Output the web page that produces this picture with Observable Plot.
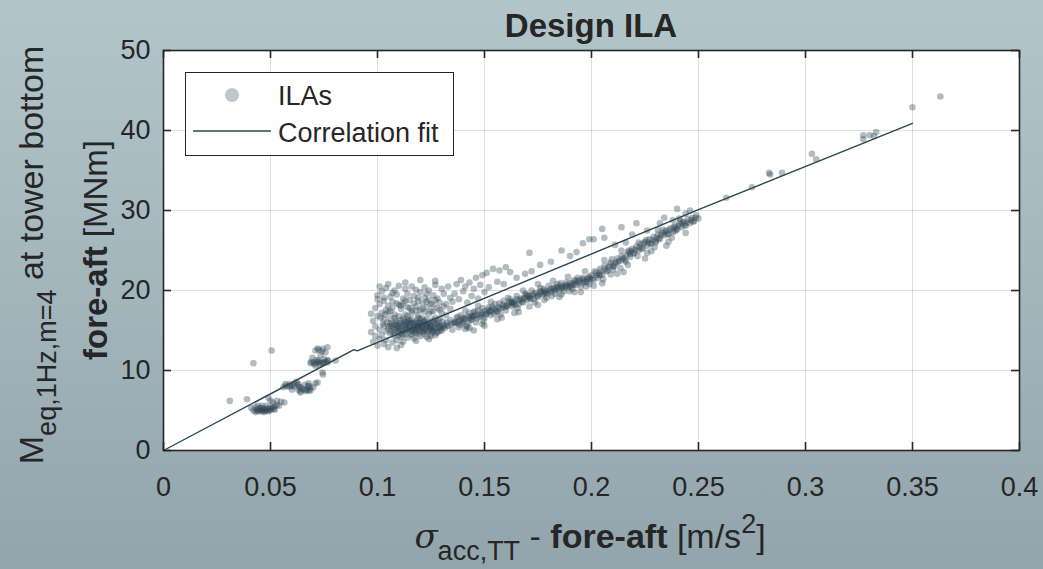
<!DOCTYPE html>
<html>
<head>
<meta charset="utf-8">
<script src="https://cdn.jsdelivr.net/npm/d3@7"></script>
<script src="https://cdn.jsdelivr.net/npm/@observablehq/plot@0.6"></script>
<style>
  html, body { margin: 0; padding: 0; }
  body { width: 1043px; height: 569px; overflow: hidden;
         background: linear-gradient(to bottom, #b2c5cb 0%, #a3b6bc 50%, #93a5ac 100%); }
  #chart svg { display: block; }
</style>
</head>
<body>
<div id="chart"></div>
<script>
// ---------- data ----------
const xTicks = [0, 0.05, 0.1, 0.15, 0.2, 0.25, 0.3, 0.35, 0.4];
const yTicks = [0, 10, 20, 30, 40, 50];

// Correlation fit (piecewise)
const fitX = [0, 0.089, 0.0905, 0.25, 0.35];
const fitY = [0, 12.6, 12.45, 30.1, 40.9];

// ILA points, cluster by cluster
const clusterLow = [
  [0.031,6.2],[0.039,6.4],[0.042,10.9],[0.0505,12.5],
  [0.041,5.3],[0.042,5.0],[0.043,4.8],[0.044,5.1],[0.045,4.9],[0.045,5.3],[0.046,5.0],[0.047,4.8],
  [0.047,5.2],[0.048,5.0],[0.049,5.3],[0.049,4.9],[0.050,5.1],[0.051,5.4],[0.052,5.5],[0.052,5.1],
  [0.053,5.7],[0.054,5.6],[0.048,5.6],[0.046,5.6],[0.050,6.2],[0.049,6.6],[0.051,6.0],[0.053,6.2],
  [0.055,6.1],[0.0565,6.0],[0.044,5.6],[0.043,5.4],
  [0.0435,5.1],[0.0455,5.2],[0.0465,4.9],[0.0475,5.0],[0.0485,5.2],[0.0495,5.0],[0.0505,5.3],
  [0.0515,5.2],[0.046,5.3],[0.044,4.9]
];
const clusterMid = [
  [0.056,7.9],[0.057,8.3],[0.058,8.0],[0.059,8.3],[0.060,8.1],[0.061,8.3],[0.0626,8.4],[0.063,7.6],
  [0.063,8.2],[0.064,7.4],[0.064,7.9],[0.064,7.25],[0.066,7.6],[0.066,8.2],[0.0678,8.4],[0.068,7.5],
  [0.068,8.1],[0.0687,7.5],[0.070,7.9],[0.071,8.4],[0.060,7.6],[0.062,8.6],[0.072,8.5],[0.0686,7.8],
  [0.057,8.1],[0.059,8.0],[0.061,8.0],[0.0635,7.9],[0.065,7.7],[0.067,7.6],[0.0675,8.0],[0.0665,7.4]
];
const clusterHigh = [
  [0.071,12.5],[0.072,12.75],[0.0766,12.9],[0.0757,12.25],[0.0734,11.9],[0.0687,10.9],[0.070,11.0],
  [0.071,10.6],[0.0724,11.25],[0.0743,11.0],[0.0748,10.9],[0.0766,11.0],[0.0743,9.75],[0.0804,11.25],
  [0.0696,11.6],[0.069,11.1],[0.0705,10.8],[0.073,10.7],[0.075,11.4],[0.0715,11.3],[0.077,11.2],
  [0.0745,9.5],[0.074,12.4],
  [0.0715,11.0],[0.0725,11.1],[0.0735,10.9],[0.0755,11.1],[0.0765,11.3],[0.0725,12.6],[0.0745,12.7]
];
const mainCore = [
  [0.105,15.2],[0.106,14.6],[0.107,15.8],[0.108,14.3],[0.108,15.1],[0.109,16.0],[0.110,14.7],[0.110,15.5],
  [0.111,14.2],[0.111,16.3],[0.112,15.0],[0.112,15.8],[0.113,14.5],[0.113,15.4],[0.114,16.1],[0.114,14.1],
  [0.115,14.9],[0.115,15.7],[0.116,14.4],[0.116,16.4],[0.117,15.2],[0.117,14.0],[0.118,15.9],[0.118,14.7],
  [0.119,15.4],[0.119,16.6],[0.120,14.3],[0.120,15.1],[0.121,15.8],[0.121,14.8],[0.122,16.2],[0.122,14.5],
  [0.123,15.5],[0.123,14.2],[0.124,15.0],[0.124,16.0],[0.125,14.6],[0.125,15.6],[0.126,14.9],[0.126,16.3],
  [0.127,15.3],[0.127,14.4],[0.128,15.9],[0.128,14.8],[0.129,15.4],[0.129,16.5],[0.130,15.0],[0.131,15.7],
  [0.110,16.8],[0.113,17.0],[0.116,17.2],[0.119,16.9],[0.122,17.3],[0.106,16.5],[0.104,14.9],[0.103,15.6],
  [0.102,14.4],[0.101,15.1],[0.109,13.8],[0.112,13.6],[0.118,13.7],[0.124,13.9],[0.114,15.2],[0.117,15.6],
  [0.120,15.9],[0.115,15.3],[0.121,15.3],[0.118,15.0],[0.123,15.8],[0.126,15.4]
];
const mainCoreDense = [
  [0.1055,15.5],[0.1065,14.9],[0.1075,15.3],[0.1085,15.7],[0.1095,14.9],[0.1105,15.2],[0.1115,15.6],
  [0.1125,14.8],[0.1135,16.0],[0.1145,15.5],[0.1155,14.6],[0.1165,15.9],[0.1175,15.4],[0.1185,16.2],
  [0.1195,15.0],[0.1205,15.6],[0.1215,16.1],[0.1225,15.2],[0.1235,14.9],[0.1245,15.7],[0.1255,16.1],
  [0.1265,15.1],[0.1275,15.8],[0.1285,16.2],[0.1295,15.6],[0.1305,16.1],[0.1315,15.3],[0.1325,16.0],
  [0.109,15.3],[0.111,15.0],[0.113,15.7],[0.115,16.2],[0.117,16.0],[0.119,15.6],[0.121,16.5],[0.123,16.4],
  [0.125,15.2],[0.127,16.6],[0.112,16.5],[0.114,16.8],[0.118,17.5],[0.120,16.4],[0.124,17.1],[0.126,17.4],
  [0.108,16.6],[0.106,15.9],[0.116,15.0],[0.122,15.0],[0.110,14.4],[0.119,14.6],[0.125,14.3],[0.129,14.9],
  [0.103,16.4],[0.105,17.3],[0.107,17.8],[0.111,18.1],[0.115,17.8],[0.117,18.4],[0.121,17.7],[0.123,18.6],
  [0.125,18.3],[0.129,17.6],[0.131,18.0],[0.103,19.1],[0.107,19.7],[0.109,18.4],[0.113,18.7],[0.119,19.1],
  [0.123,19.6],[0.127,18.8]
];
const mainCoreDarkest = [
  [0.1075,14.6],[0.1095,15.6],[0.1115,14.5],[0.1135,15.1],[0.1155,15.9],[0.1175,14.8],[0.1195,16.0],
  [0.1215,14.9],[0.1235,15.6],[0.1255,15.0],[0.1275,14.7],[0.1295,15.2],[0.1145,16.4],[0.1185,15.5],
  [0.1225,15.7],[0.1165,15.1],[0.1205,15.4],[0.1245,15.4],[0.1105,15.9],[0.1085,16.2],[0.1265,16.0],
  [0.1285,15.5],[0.1305,15.4],[0.1325,15.6],[0.1125,16.2],[0.1065,15.6],[0.1045,16.0],[0.1025,15.8],
  [0.1015,16.6],[0.1035,17.0]
];
const mainUpper = [
  [0.099,17.8],[0.100,19.4],[0.100,16.8],[0.101,18.3],[0.102,17.2],[0.102,19.9],[0.103,18.7],[0.104,17.6],
  [0.104,20.3],[0.105,18.1],[0.106,19.2],[0.106,17.4],[0.107,18.6],[0.108,20.0],[0.108,17.0],[0.109,19.5],
  [0.110,18.2],[0.110,20.6],[0.111,17.7],[0.112,19.0],[0.112,18.4],[0.113,20.2],[0.114,17.9],[0.114,19.6],
  [0.115,18.8],[0.116,20.5],[0.116,17.5],[0.117,19.3],[0.118,18.0],[0.118,20.1],[0.119,18.7],[0.120,19.8],
  [0.120,17.6],[0.121,18.4],[0.122,20.4],[0.122,19.1],[0.123,17.9],[0.124,18.8],[0.124,20.0],[0.125,17.4],
  [0.126,19.4],[0.126,18.2],[0.127,20.7],[0.128,17.8],[0.128,19.0],[0.129,18.5],[0.130,20.2],[0.130,17.2],
  [0.131,19.6],[0.132,18.3],[0.132,16.9],[0.133,20.5],[0.134,17.7],[0.134,19.1],[0.135,18.6],[0.127,21.2],
  [0.113,21.0],[0.105,20.8],[0.120,21.3],[0.101,20.5]
];
const mainLower = [
  [0.098,13.6],[0.099,14.3],[0.100,13.1],[0.101,13.9],[0.103,13.3],[0.104,13.8],[0.105,12.9],[0.107,13.5],
  [0.109,12.8],[0.111,13.2],[0.098,16.2],[0.099,15.5],[0.097,14.8],[0.100,18.9],[0.097,17.1]
];
const upperBand = [
  [0.136,19.6],[0.137,20.8],[0.138,18.9],[0.139,21.3],[0.140,19.9],[0.141,20.5],[0.142,18.5],[0.143,21.0],
  [0.144,19.3],[0.145,20.2],[0.146,21.6],[0.147,19.0],[0.148,20.7],[0.149,21.9],[0.150,19.8],[0.151,22.2],
  [0.152,20.4],[0.154,22.7],[0.156,21.1],[0.157,22.5],[0.159,20.8],[0.160,22.9],[0.162,22.3],[0.165,21.6],
  [0.169,22.1],[0.171,24.7],[0.172,22.4],[0.186,25.0],[0.196,25.9],[0.199,26.4],[0.201,26.4],[0.205,27.7],
  [0.214,27.9],[0.221,28.4],[0.234,29.1],[0.240,30.2],[0.176,23.2],[0.181,23.6],[0.190,24.3],[0.193,24.8],
  [0.206,26.6],[0.211,25.7],[0.216,26.0],[0.219,27.0],[0.226,27.5],[0.232,28.4],[0.238,28.8],[0.244,29.6],
  [0.246,30.0]
];
const lowerBand = [
  [0.133,15.6],[0.134,16.3],[0.135,15.1],[0.136,15.9],[0.137,16.6],[0.138,15.4],[0.139,16.9],[0.140,16.1],
  [0.141,15.2],[0.142,15.4],[0.142,16.8],[0.143,17.2],[0.144,16.4],[0.145,17.25],[0.146,16.0],[0.147,17.5],
  [0.148,16.9],[0.149,17.8],[0.150,16.6],[0.151,17.1],[0.152,17.9],[0.153,16.9],[0.154,17.75],[0.155,18.3],
  [0.156,17.3],[0.157,18.4],[0.158,17.8],[0.159,18.7],[0.160,17.5],[0.161,18.2],
  [0.162,18.9],[0.163,18.0],[0.164,18.6],[0.165,19.3],[0.166,18.3],[0.167,19.0],[0.168,18.5],[0.169,19.6],
  [0.170,18.8],[0.171,19.3],[0.172,20.0],[0.173,18.9],[0.174,19.7],[0.175,19.2],[0.176,20.3],[0.177,19.5],
  [0.178,20.0],[0.179,19.1],[0.180,20.6],[0.181,19.8],[0.182,20.3],[0.183,19.6],[0.184,20.8],[0.185,20.1],
  [0.186,20.6],[0.187,19.9],[0.188,21.0],[0.189,20.4],[0.190,20.9],[0.191,20.2],[0.192,21.3],[0.193,20.7],
  [0.194,21.1],[0.195,20.5],[0.196,21.6],[0.197,21.0],[0.198,21.4],[0.199,20.8],[0.200,21.9],[0.201,21.3],
  [0.202,22.2],[0.203,21.6],[0.204,22.7],[0.205,22.0],[0.206,23.1],[0.207,22.4],[0.208,22.9],[0.209,23.5],
  [0.210,22.6],[0.211,23.3],[0.212,24.0],[0.213,23.7],[0.214,24.3],[0.215,24.1],[0.216,23.6],[0.217,24.8],
  [0.218,24.6],[0.219,25.2],[0.220,24.7],[0.221,25.5],[0.222,25.0],[0.223,25.8],[0.224,25.3],[0.225,26.1],
  [0.226,25.6],[0.227,26.4],[0.228,25.9],[0.229,26.7],[0.230,26.2],[0.231,27.0],[0.232,26.5],[0.233,27.2],
  [0.234,26.9],[0.235,27.5],[0.236,27.1],[0.237,27.8],[0.238,27.3],[0.239,28.1],[0.240,27.6],[0.241,28.3],
  [0.242,27.9],[0.243,28.6],[0.244,28.1],[0.245,28.9],[0.246,28.4],[0.247,29.1],[0.248,28.7],[0.249,29.4],
  [0.250,29.0],
  [0.145,15.0],[0.150,15.6],[0.158,16.6],[0.166,17.3],[0.175,18.2],[0.185,19.2],[0.195,19.8],[0.205,20.9],
  [0.215,22.3],[0.225,24.0],[0.235,25.6],[0.212,22.1],[0.228,24.9],
  [0.138,16.2],[0.144,16.8],[0.153,17.4],[0.163,18.4],[0.171,19.0],[0.178,19.6],[0.184,20.3],[0.190,20.5],
  [0.198,21.1],[0.204,21.9],[0.210,23.0],[0.218,24.2],[0.230,26.0],[0.239,27.4]
];
const lowerBandDense = [
  [0.1345,15.8],[0.1365,16.1],[0.1385,15.7],[0.1405,16.4],[0.1425,16.0],[0.1445,16.7],[0.1465,16.5],
  [0.1485,17.2],[0.1505,17.0],[0.1525,17.4],[0.1545,17.1],[0.1565,17.9],[0.1585,18.2],[0.1605,18.0],
  [0.1625,18.5],[0.1645,18.2],[0.1665,18.8],[0.1685,19.1],[0.1705,19.2],[0.1725,19.4],[0.1745,19.3],
  [0.1765,19.8],[0.1785,19.7],[0.1805,20.0],[0.1825,20.1],[0.1845,20.5],[0.1865,20.3],[0.1885,20.7],
  [0.1905,20.6],[0.1925,20.9],[0.1945,21.3],[0.1965,21.2],[0.1985,21.6],[0.2005,21.5],[0.2025,21.9],
  [0.2045,22.4],[0.2065,22.7],[0.2085,23.2],[0.2105,23.0],[0.2125,23.6],[0.2145,23.9],[0.2165,24.4],
  [0.2185,24.9],[0.2205,25.1],[0.2225,25.4],[0.2245,25.9],[0.2265,26.0],[0.2285,26.3],[0.2305,26.6],
  [0.2325,26.9],[0.2345,27.3],[0.2365,27.6],[0.2385,27.9],[0.2405,28.0],[0.2425,28.4],[0.2445,28.5],
  [0.2465,28.8],[0.2485,29.1],
  [0.137,15.9],[0.139,16.3],[0.141,16.5],[0.143,16.6],[0.146,16.9],[0.149,17.0],[0.152,17.3],[0.155,17.6],
  [0.157,17.7],[0.160,18.1],[0.163,18.6],[0.165,18.9],[0.168,18.9],[0.170,19.4],[0.173,19.6],[0.176,19.9],
  [0.179,19.9],[0.181,20.2],[0.183,20.4],[0.186,20.4],[0.188,20.6],[0.191,21.0],[0.193,21.2],[0.196,21.4],
  [0.199,21.7],[0.150,17.4],[0.145,16.8],[0.140,16.6]
];
const lowerBandDarkest = [
  [0.1355,16.0],[0.1395,15.9],[0.1435,16.3],[0.1475,16.7],[0.1515,17.6],[0.1555,17.4],[0.1595,17.9],
  [0.1635,18.3],[0.1675,18.6],[0.1715,19.0],[0.1755,19.5],[0.1795,19.6],[0.1835,20.0],[0.1875,20.4],
  [0.1915,20.7],[0.1955,20.9],[0.1995,21.4],[0.2035,22.0],[0.2075,22.5],[0.2115,23.5],[0.2155,23.8],
  [0.2195,24.6],[0.2235,25.2],[0.2275,25.8],[0.2315,26.4],[0.2355,27.0],[0.2395,27.7],[0.2435,28.2],
  [0.2475,28.6],
  [0.1375,16.7],[0.1455,17.4],[0.1535,18.0],[0.1615,18.6],[0.1695,19.5],[0.1775,20.2],[0.1855,20.9],
  [0.1935,21.6],[0.2015,22.4],[0.2095,23.9],[0.2175,25.0],[0.2255,26.3],[0.2335,27.6],[0.2415,28.7],
  [0.1415,15.6],[0.1495,16.2],[0.1575,17.0],[0.1655,17.8],[0.1735,18.5],[0.1815,19.3],[0.1895,19.9],
  [0.1975,20.5],[0.2055,21.4],[0.2135,22.8],[0.2215,24.3],[0.2295,25.4],[0.2375,26.6]
];
const lowerBandSpread = [
  [0.141,17.5],[0.143,15.3],[0.147,18.1],[0.149,15.8],[0.153,18.6],[0.156,16.4],[0.161,19.1],[0.164,17.2],
  [0.168,20.0],[0.171,18.0],[0.175,20.8],[0.178,18.8],[0.182,21.2],[0.186,19.5],[0.189,21.7],[0.192,19.8],
  [0.197,22.4],[0.201,20.6],[0.206,23.8],[0.209,22.0],[0.214,25.0],[0.217,23.2],[0.222,26.0],[0.226,24.7],
  [0.231,27.6],[0.236,26.1],[0.241,29.0],[0.244,27.2]
];
const outliersHigh = [
  [0.263,31.6],[0.275,32.9],[0.283,34.7],[0.2835,34.5],[0.289,34.7],[0.303,37.1],[0.305,36.4],
  [0.327,38.9],[0.327,39.4],[0.330,39.4],[0.333,39.8],[0.332,39.3],[0.350,42.9],[0.363,44.25]
];

const ilas = [...clusterLow, ...clusterMid, ...clusterHigh, ...mainCore, ...mainCoreDense, ...mainCoreDarkest,
              ...mainUpper, ...mainLower, ...upperBand, ...lowerBand, ...lowerBandDense, ...lowerBandDarkest,
              ...lowerBandSpread, ...outliersHigh];
const fit = fitX.map((x, i) => ({x, y: fitY[i]}));

// ---------- chart ----------
const W = 1043, H = 569;
const mL = 163, mR = 24, mT = 50, mB = 119;
const innerW = W - mL - mR, innerH = H - mT - mB;
const dotColor = "#2b4552";
const ink = "#262626";
const fontFamily = "'Liberation Sans', Arial, Helvetica, sans-serif";

const plot = Plot.plot({
  width: W, height: H,
  marginLeft: mL, marginRight: mR, marginTop: mT, marginBottom: mB,
  style: {background: "transparent", fontFamily, fontSize: "27px", color: ink, overflow: "visible"},
  x: {domain: [0, 0.4]},
  y: {domain: [0, 50]},
  marks: [
    Plot.frame({fill: "white", stroke: null}),
    Plot.gridX(xTicks, {stroke: "#000", strokeOpacity: 0.13, strokeWidth: 1}),
    Plot.gridY(yTicks, {stroke: "#000", strokeOpacity: 0.13, strokeWidth: 1}),
    Plot.dot(ilas, {x: d => d[0], y: d => d[1], r: 3.3, fill: dotColor, fillOpacity: 0.36, stroke: null}),
    Plot.line(fit, {x: "x", y: "y", stroke: dotColor, strokeWidth: 1.4}),
    // inward ticks on all four sides
    Plot.tickX(xTicks, {x: d => d, insetTop: innerH - 8, stroke: ink, strokeWidth: 1.6}),
    Plot.tickX(xTicks, {x: d => d, insetBottom: innerH - 8, stroke: ink, strokeWidth: 1.6}),
    Plot.tickY(yTicks, {y: d => d, insetRight: innerW - 8, stroke: ink, strokeWidth: 1.6}),
    Plot.tickY(yTicks, {y: d => d, insetLeft: innerW - 8, stroke: ink, strokeWidth: 1.6}),
    Plot.frame({stroke: ink, strokeWidth: 1.6}),
    Plot.axisX(xTicks, {tickSize: 0, tickPadding: 26, tickFormat: d => String(d), label: null, fill: ink}),
    Plot.axisY(yTicks, {tickSize: 0, tickPadding: 13, tickFormat: d => String(d), label: null, fill: ink})
  ]
});
document.getElementById("chart").appendChild(plot);

// ---------- title, axis labels, legend ----------
const svg = d3.select(plot);
const g = svg.append("g").attr("font-family", fontFamily).attr("fill", ink);

g.append("text").attr("x", 591).attr("y", 37).attr("text-anchor", "middle")
  .attr("font-size", 33).attr("font-weight", "bold").text("Design ILA");

// x label
const xl = g.append("text").attr("x", 590).attr("y", 548).attr("text-anchor", "middle").attr("font-size", 34);
xl.append("tspan").attr("font-family", "'DejaVu Serif', serif").attr("font-style", "italic").text("σ");
xl.append("tspan").attr("font-size", 27).attr("dy", 12).text("acc,TT");
xl.append("tspan").attr("dy", -12).text(" - ");
xl.append("tspan").attr("font-weight", "bold").text("fore-aft");
xl.append("tspan").text(" [m/s");
xl.append("tspan").attr("font-size", 27).attr("dy", -15).text("2");
xl.append("tspan").attr("dy", 15).text("]");

// y label (two lines)
const yl1 = g.append("text").attr("transform", "translate(43,255) rotate(-90)")
  .attr("text-anchor", "middle").attr("font-size", 34);
yl1.append("tspan").text("M");
yl1.append("tspan").attr("font-size", 27).attr("dy", 13).text("eq,1Hz,m=4");
yl1.append("tspan").attr("dy", -13).text(" at tower bottom");

const yl2 = g.append("text").attr("transform", "translate(107,250) rotate(-90)")
  .attr("text-anchor", "middle").attr("font-size", 33);
yl2.append("tspan").attr("font-weight", "bold").text("fore-aft");
yl2.append("tspan").text(" [MNm]");

// legend
const lg = svg.append("g").attr("font-family", fontFamily).attr("text-anchor", "start");
lg.append("rect").attr("x", 185.5).attr("y", 72.5).attr("width", 268).attr("height", 83)
  .attr("fill", "white").attr("stroke", ink).attr("stroke-width", 1);
lg.append("circle").attr("cx", 232).attr("cy", 95).attr("r", 7).attr("fill", dotColor).attr("fill-opacity", 0.3);
lg.append("line").attr("x1", 193).attr("x2", 271).attr("y1", 131).attr("y2", 131)
  .attr("stroke", dotColor).attr("stroke-width", 1.4);
lg.append("text").attr("x", 278).attr("y", 105).attr("font-size", 27).attr("fill", ink)
  .attr("text-anchor", "start").text("ILAs");
lg.append("text").attr("x", 278).attr("y", 142).attr("font-size", 27).attr("fill", ink)
  .attr("text-anchor", "start").text("Correlation fit");
</script>
</body>
</html>
